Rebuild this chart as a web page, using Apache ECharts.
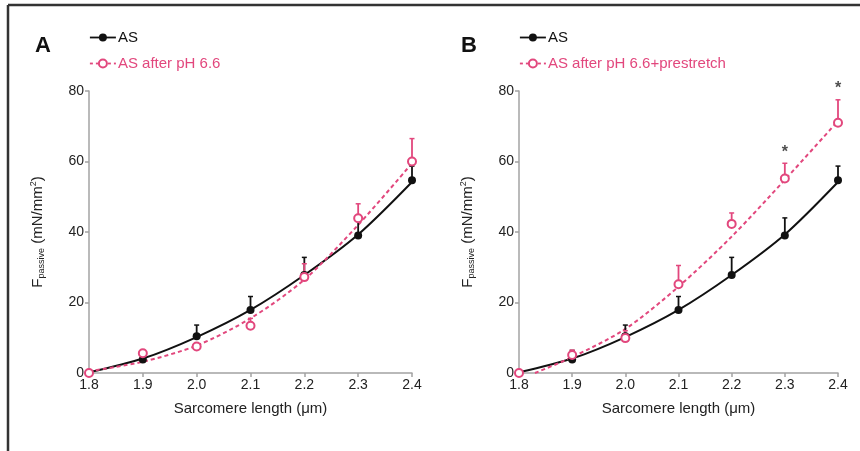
<!DOCTYPE html>
<html>
<head>
<meta charset="utf-8">
<script src="https://cdn.jsdelivr.net/npm/echarts@6/dist/echarts.min.js"></script>
<style>
  html, body { margin: 0; padding: 0; background: #fff; }
  #chart { width: 860px; height: 451px; }
</style>
</head>
<body>
<div id="chart"></div>
<script>
// sarcomere length (µm)
var lengths = [1.8, 1.9, 2.0, 2.1, 2.2, 2.3, 2.4];
// AS, mean and upper error (mN/mm2)
var asMean = [0, 3.8, 10.4, 17.9, 27.8, 39, 54.7];
var asUpper = [0, 6.4, 13.6, 21.7, 32.8, 44, 58.7];
var asFit = [0.2, 4.1, 10.2, 17.9, 27.8, 39.3, 54.2];
// AS after pH 6.6
var phMean = [0, 5.6, 7.5, 13.4, 27.2, 43.9, 60];
var phUpper = [0, 6.5, 8.3, 15.5, 31, 48, 66.5];
var phFit = [0.5, 3.2, 7.8, 15.5, 26.5, 42, 59.5];
// AS after pH 6.6 + prestretch
var preMean = [0, 5.1, 9.9, 25.2, 42.3, 55.2, 71];
var preUpper = [0, 6.5, 12, 30.5, 45.4, 59.5, 77.5];
var preFitX = [1.83, 1.9, 2.0, 2.1, 2.2, 2.3, 2.4];
var preFit = [0, 4.5, 12.5, 24.5, 38.7, 54.8, 71.5];
// significance marks (panel B)
var starX = [2.3, 2.4];

var pink = '#e2477d';
var dom = document.getElementById("chart");
var myChart = echarts.init(dom);

function pairs(xs, ys) {
    return xs.map(function (x, i) { return [x, ys[i]]; });
}
function errData(mean, upper) {
    var out = [];
    for (var i = 0; i < lengths.length; i++) {
        if (upper[i] > mean[i]) out.push([lengths[i], mean[i], upper[i]]);
    }
    return out;
}
function errRender(color) {
    return function (params, api) {
        var p0 = api.coord([api.value(0), api.value(1)]);
        var p1 = api.coord([api.value(0), api.value(2)]);
        return {
            type: 'group',
            children: [
                { type: 'line', shape: { x1: p0[0], y1: p0[1], x2: p1[0], y2: p1[1] }, style: { stroke: color, lineWidth: 1.8 } },
                { type: 'line', shape: { x1: p1[0] - 2.5, y1: p1[1], x2: p1[0] + 2.5, y2: p1[1] }, style: { stroke: color, lineWidth: 1.5 } }
            ]
        };
    };
}
function starData() {
    return starX.map(function (x) {
        var i = lengths.indexOf(x);
        return [x, preUpper[i]];
    });
}

var axisGray = '#a3a3a3';
function xAxisCfg(grid) {
    return {
        type: 'value', gridIndex: grid, min: 1.8, max: 2.4, interval: 0.1,
        name: 'Sarcomere length (μm)', nameLocation: 'middle', nameGap: 28,
        nameTextStyle: { fontSize: 15, color: '#222', fontFamily: 'Liberation Sans' },
        axisLine: { lineStyle: { color: axisGray, width: 1.5 } },
        axisTick: { length: 4, lineStyle: { color: axisGray, width: 1.5 } },
        axisLabel: { fontSize: 14, color: '#222', margin: 5, fontFamily: 'Liberation Sans',
            formatter: function (v) { return v.toFixed(1); } },
        splitLine: { show: false }
    };
}
function yAxisCfg(grid) {
    return {
        type: 'value', gridIndex: grid, min: 0, max: 80, interval: 20,
        name: '{a|F}{b|passive}{a| (mN/mm}{c|2}{a|)}', nameLocation: 'middle', nameGap: 43,
        nameTextStyle: {
            rich: {
                a: { fontSize: 15, color: '#222', fontFamily: 'Liberation Sans' },
                b: { fontSize: 9, color: '#222', fontFamily: 'Liberation Sans', verticalAlign: 'bottom', padding: [7, 0, 0, 0] },
                c: { fontSize: 9, color: '#222', fontFamily: 'Liberation Sans', verticalAlign: 'top', padding: [0, 0, 8, 0] }
            }
        },
        axisLine: { show: true, lineStyle: { color: axisGray, width: 1.5 } },
        axisTick: { show: true, length: 4, lineStyle: { color: axisGray, width: 1.5 } },
        axisLabel: { fontSize: 14, color: '#222', margin: 5, fontFamily: 'Liberation Sans' },
        splitLine: { show: false }
    };
}
function fitSeries(name, idx, data, color, dashed) {
    return {
        name: name + ' fit', type: 'line', xAxisIndex: idx, yAxisIndex: idx,
        data: data, smooth: 0.3, showSymbol: false, symbol: 'none', z: 2,
        lineStyle: { color: color, width: 2, type: dashed ? [4, 3] : 'solid' },
        silent: true
    };
}
function pointSeries(name, idx, data, color, hollow) {
    return {
        name: name, type: 'line', xAxisIndex: idx, yAxisIndex: idx, data: data,
        symbol: hollow ? 'emptyCircle' : 'circle', symbolSize: 8,
        lineStyle: { opacity: 0, color: color },
        itemStyle: { color: color, borderWidth: hollow ? 1 : 0, borderColor: color },
        z: 5
    };
}
function errSeries(idx, data, color) {
    return {
        type: 'custom', xAxisIndex: idx, yAxisIndex: idx, data: data,
        renderItem: errRender(color), z: 3, silent: true
    };
}
function legendCfg(left, names) {
    return {
        left: left, top: 25, orient: 'vertical', itemGap: 11, itemWidth: 26, itemHeight: 10,
        textStyle: { fontSize: 15, fontFamily: 'Liberation Sans', padding: [0, 0, 0, -3] },
        data: [
            { name: names[0], lineStyle: { opacity: 1, width: 1.8, color: '#111' }, textStyle: { color: '#111' } },
            { name: names[1], lineStyle: { opacity: 1, width: 1.8, color: pink, type: [3, 3] }, textStyle: { color: pink } }
        ]
    };
}

var option = {
    animation: false,
    backgroundColor: '#fff',
    title: [
        { text: 'A', left: 30, top: 30, textStyle: { fontSize: 22, fontWeight: 'bold', color: '#111', fontFamily: 'Liberation Sans' } },
        { text: 'B', left: 456, top: 30, textStyle: { fontSize: 22, fontWeight: 'bold', color: '#111', fontFamily: 'Liberation Sans' } }
    ],
    legend: [
        legendCfg(84, ['AS', 'AS after pH 6.6']),
        legendCfg(514, ['AS', 'AS after pH 6.6+prestretch'])
    ],
    graphic: [
        { type: 'line', shape: { x1: 8, y1: 5, x2: 860, y2: 5 }, style: { stroke: '#333', lineWidth: 2.5 } },
        { type: 'line', shape: { x1: 8, y1: 5, x2: 8, y2: 451 }, style: { stroke: '#333', lineWidth: 2.5 } }
    ],
    grid: [
        { left: 89, right: 448, top: 91, bottom: 78 },
        { left: 519, right: 22, top: 91, bottom: 78 }
    ],
    xAxis: [xAxisCfg(0), xAxisCfg(1)],
    yAxis: [yAxisCfg(0), yAxisCfg(1)],
    series: [
        // panel A
        fitSeries('AS', 0, pairs(lengths, asFit), '#111', false),
        fitSeries('AS after pH 6.6', 0, pairs(lengths, phFit), pink, true),
        errSeries(0, errData(asMean, asUpper), '#111'),
        errSeries(0, errData(phMean, phUpper), pink),
        pointSeries('AS', 0, pairs(lengths, asMean), '#111', false),
        pointSeries('AS after pH 6.6', 0, pairs(lengths, phMean), pink, true),
        // panel B
        fitSeries('AS', 1, pairs(lengths, asFit), '#111', false),
        fitSeries('AS after pH 6.6+prestretch', 1, pairs(preFitX, preFit), pink, true),
        errSeries(1, errData(asMean, asUpper), '#111'),
        errSeries(1, errData(preMean, preUpper), pink),
        pointSeries('AS', 1, pairs(lengths, asMean), '#111', false),
        pointSeries('AS after pH 6.6+prestretch', 1, pairs(lengths, preMean), pink, true),
        {
            type: 'scatter', xAxisIndex: 1, yAxisIndex: 1, data: starData(),
            symbolSize: 0, silent: true, clip: false,
            label: { show: true, position: 'top', distance: 3, formatter: '*', fontSize: 16, color: '#222', fontWeight: 'bold' }
        }
    ]
};
if (option && typeof option === "object") {
    myChart.setOption(option, true);
}
</script>
</body>
</html>
